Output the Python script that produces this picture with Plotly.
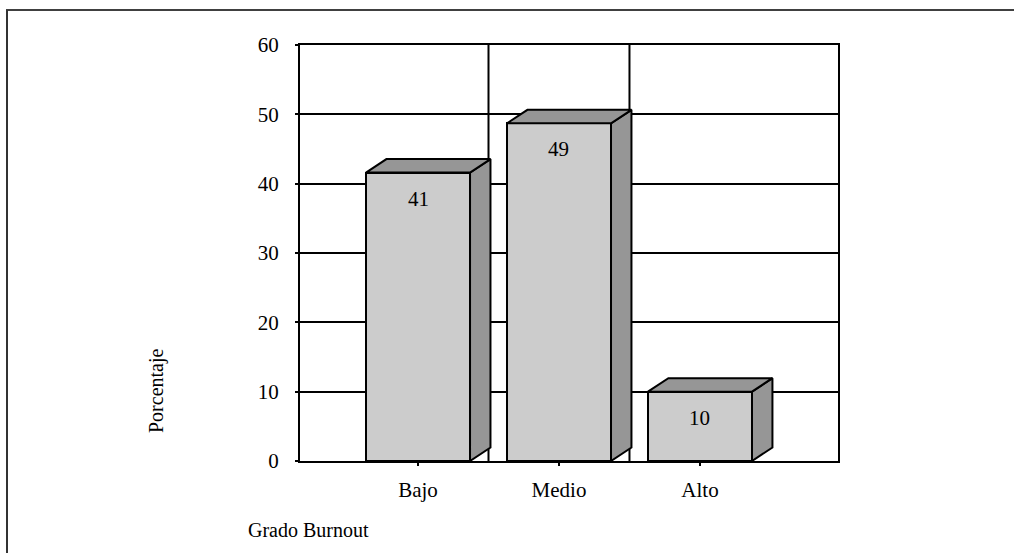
import plotly.graph_objects as go

categories = ["Bajo", "Medio", "Alto"]
values = [41.6, 48.7, 10.0]
value_labels = ["41", "49", "10"]
y_ticks = [0, 10, 20, 30, 40, 50, 60]

FONT = "Liberation Serif"
FS = 21
FS_TITLE = 20
FRONT = "#cccccc"
SHADE = "#969696"
bar_w = 0.738
dx = 0.145   # depth offset in category units
dy = 1.95    # depth offset in value units

xs = list(range(len(categories)))

fig = go.Figure()

fig.add_trace(go.Bar(
    x=xs, y=values, width=bar_w,
    marker=dict(color=FRONT, line=dict(color="black", width=2)),
    hoverinfo="skip", showlegend=False,
))

for x, v in zip(xs, values):
    l, r = x - bar_w / 2, x + bar_w / 2
    fig.add_trace(go.Scatter(
        x=[r, r + dx, r + dx, r, r], y=[0, dy, v + dy, v, 0],
        mode="lines", fill="toself", fillcolor=SHADE,
        line=dict(color="black", width=2), hoverinfo="skip", showlegend=False,
    ))
    fig.add_trace(go.Scatter(
        x=[l, l + dx, r + dx, r, l], y=[v, v + dy, v + dy, v, v],
        mode="lines", fill="toself", fillcolor=SHADE,
        line=dict(color="black", width=2), hoverinfo="skip", showlegend=False,
    ))

annotations = []
for x, v, t in zip(xs, values, value_labels):
    annotations.append(dict(x=x, y=v, text=t, showarrow=False, yshift=-26,
                            yanchor="middle",
                            font=dict(family=FONT, size=FS, color="black")))

annotations.append(dict(xref="paper", yref="paper", x=(156 - 300) / 538, y=(461 - 391) / 416,
                        xanchor="center", yanchor="middle",
                        text="Porcentaje", textangle=-90, showarrow=False,
                        font=dict(family=FONT, size=FS_TITLE, color="black")))
annotations.append(dict(xref="paper", yref="paper", x=(246 - 300) / 538, y=(461 - 530) / 416,
                        xanchor="left", yanchor="middle", text="Grado Burnout", showarrow=False,
                        font=dict(family=FONT, size=FS_TITLE, color="black")))

shapes = []
for i in range(len(categories) - 1):
    shapes.append(dict(type="line", xref="x", yref="paper", x0=i + 0.5, x1=i + 0.5,
                       y0=0, y1=1, layer="below", line=dict(color="black", width=2)))

# outer frame (top and left)
shapes.append(dict(type="line", xref="paper", yref="paper",
                   x0=(6 - 300) / 538, x1=(1014 - 300) / 538,
                   y0=(461 - 10) / 416, y1=(461 - 10) / 416,
                   line=dict(color="black", width=1.5)))
shapes.append(dict(type="line", xref="paper", yref="paper",
                   x0=(7 - 300) / 538, x1=(7 - 300) / 538,
                   y0=(461 - 10) / 416, y1=(461 - 553) / 416,
                   line=dict(color="#333333", width=2)))

fig.update_layout(
    width=1014, height=553,
    margin=dict(l=300, r=176, t=45, b=92),
    paper_bgcolor="white", plot_bgcolor="white",
    xaxis=dict(range=[-0.837, 2.979], tickvals=xs, ticktext=categories,
               showgrid=False, zeroline=False, showline=True, mirror=True,
               linecolor="black", linewidth=2, ticks="outside", ticklen=3,
               tickwidth=2, tickcolor="black", ticklabelstandoff=6,
               tickfont=dict(family=FONT, size=FS, color="black"), layer="above traces"),
    yaxis=dict(range=[0, 60], tickvals=y_ticks, showgrid=True, gridcolor="black",
               gridwidth=2, zeroline=False, showline=True, mirror=True,
               linecolor="black", linewidth=2, ticks="outside", ticklen=3,
               tickwidth=2, tickcolor="black", ticklabelstandoff=12,
               tickfont=dict(family=FONT, size=FS, color="black"), layer="above traces"),
    annotations=annotations,
    shapes=shapes,
    bargap=0,
)

fig.write_html("out.html", config={"displayModeBar": False},
               post_script="document.body.style.margin='0px';")
